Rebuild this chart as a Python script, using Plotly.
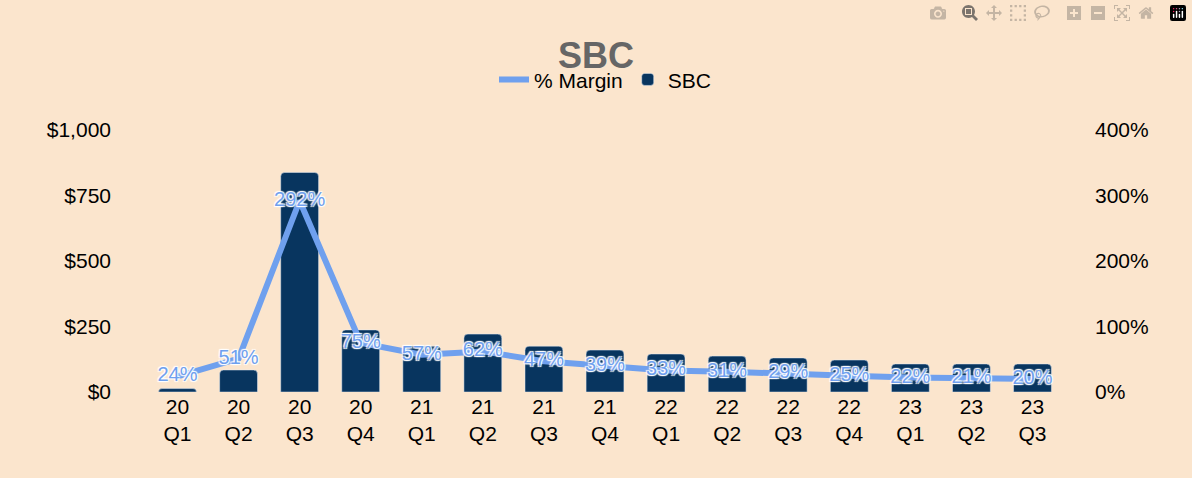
import plotly.graph_objects as go

quarters = ["20<br>Q1", "20<br>Q2", "20<br>Q3", "20<br>Q4", "21<br>Q1", "21<br>Q2", "21<br>Q3", "21<br>Q4",
            "22<br>Q1", "22<br>Q2", "22<br>Q3", "22<br>Q4", "23<br>Q1", "23<br>Q2", "23<br>Q3"]
sbc = [13, 84, 838, 237, 175, 221, 175, 160, 145, 137, 130, 122, 107, 107, 107]
margin = [24, 51, 292, 75, 57, 62, 47, 39, 33, 31, 29, 25, 22, 21, 20]
left_ticks = [0, 250, 500, 750, 1000]
left_labels = ["$0", "$250", "$500", "$750", "$1,000"]
right_ticks = [0, 100, 200, 300, 400]
right_labels = ["0%", "100%", "200%", "300%", "400%"]

fig = go.Figure()
fig.add_trace(go.Bar(x=quarters, y=sbc, name="SBC", marker_color="#08355F",
                     marker_cornerradius=4, width=0.62))
fig.add_trace(go.Scatter(x=quarters, y=margin, name="% Margin", yaxis="y2", mode="lines+text",
                         line=dict(color="#6FA0EE", width=6),
                         text=[str(m) + "%" for m in margin], textposition="middle center",
                         textfont=dict(color="#6FA0EE", size=20, shadow="1px 1px 1px white, -1px -1px 1px white, 1px -1px 1px white, -1px 1px 1px white")))
fig.update_layout(
    width=1192, height=478, paper_bgcolor="#FBE5CD", plot_bgcolor="#FBE5CD",
    font=dict(family="Liberation Sans", size=21, color="black"),
    title=dict(text="<b>SBC</b>", x=0.5, y=0.91, xanchor="center", font=dict(size=36, color="#666666")),
    legend=dict(orientation="h", x=0.5, xanchor="center", y=1.27, traceorder="reversed", font=dict(size=21)),
    margin=dict(l=130, r=112, t=130, b=86),
    xaxis=dict(showgrid=False),
    yaxis=dict(range=[0, 1000], tickvals=left_ticks, ticktext=left_labels, showgrid=False, zeroline=False, ticklabelstandoff=18),
    yaxis2=dict(range=[0, 400], tickvals=right_ticks, ticktext=right_labels, overlaying="y", side="right",
                showgrid=False, zeroline=False, ticklabelstandoff=14),
)
fig.write_html("out.html", post_script="document.body.style.margin='0';")
